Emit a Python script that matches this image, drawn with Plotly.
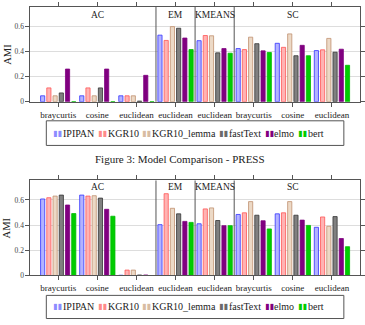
import plotly.graph_objects as go

W, H = 365, 325

categories = ["braycurtis", "cosine", "euclidean", "euclidean", "euclidean",
              "braycurtis", "cosine", "euclidean"]
methods = ["AC", "EM", "KMEANS", "SC"]
method_first = [0, 3, 4, 5]
method_last = [2, 3, 4, 7]
models = ["IPIPAN", "KGR10", "KGR10_lemma", "fastText", "elmo", "bert"]
y_ticks = [0, 0.2, 0.4, 0.6]
y_tick_labels = ["0", "0.2", "0.4", "0.6"]

# Figure 3 - PRESS
press_ipipan = [0.047, 0.047, 0.047, 0.530, 0.486, 0.423, 0.465, 0.407]
press_kgr10 = [0.110, 0.110, 0.047, 0.488, 0.527, 0.415, 0.433, 0.413]
press_kgr10_lemma = [0.047, 0.047, 0.047, 0.598, 0.525, 0.514, 0.540, 0.504]
press_fasttext = [0.070, 0.110, 0.005, 0.585, 0.389, 0.462, 0.366, 0.394]
press_elmo = [0.260, 0.260, 0.210, 0.507, 0.423, 0.405, 0.449, 0.418]
press_bert = [0.0, 0.0, 0.0, 0.415, 0.386, 0.392, 0.366, 0.290]

# second chart
second_ipipan = [0.608, 0.639, 0.002, 0.404, 0.411, 0.485, 0.490, 0.383]
second_kgr10 = [0.618, 0.631, 0.043, 0.650, 0.529, 0.498, 0.498, 0.465]
second_kgr10_lemma = [0.631, 0.634, 0.043, 0.534, 0.537, 0.587, 0.587, 0.391]
second_fasttext = [0.639, 0.615, 0.004, 0.490, 0.437, 0.479, 0.479, 0.468]
second_elmo = [0.560, 0.526, 0.004, 0.430, 0.396, 0.435, 0.440, 0.294]
second_bert = [0.492, 0.471, 0.0, 0.422, 0.396, 0.370, 0.398, 0.229]

caption = "Figure 3: Model Comparison - PRESS"

fills = ["#b3b3ff", "#ffb3b3", "#ecd9c6", "#808080", "#800080", "#00cc00"]
edges = ["#3333ff", "#ff5555", "#c09070", "#333333", "#800080", "#00bb00"]
icon_colors = ["#8c8cff", "#ff8a8a", "#d8bca2", "#6a6a6a", "#800080", "#00cc00"]
# legend layout in pixels (icon start, text start)
legend_icon_x = [52.3, 98.0, 142.6, 219.4, 265.7, 299.2]
legend_text_x = [62.3, 108.0, 152.6, 229.4, 275.7, 309.2]

FONT = "Liberation Serif"
TXT = "#222222"


def px(x):
    return x / W


def py(y):
    return 1 - y / H


press = [press_ipipan, press_kgr10, press_kgr10_lemma, press_fasttext, press_elmo, press_bert]
second = [second_ipipan, second_kgr10, second_kgr10_lemma, second_fasttext, second_elmo, second_bert]

xpos = list(range(len(categories)))
fig = go.Figure()
for data, xa, ya in [(press, "x", "y"), (second, "x2", "y2")]:
    for i, name in enumerate(models):
        fig.add_trace(go.Bar(
            x=xpos, y=data[i], name=name, xaxis=xa, yaxis=ya,
            marker=dict(color=fills[i], line=dict(color=edges[i], width=0.8)),
            showlegend=False,
        ))

xdom = [px(30.7), px(362.7)]
panels = [
    dict(top=7.0, bottom=103.3, label_y=15, legend_top=122.7, legend_bottom=147.7),
    dict(top=183.3, bottom=279.8, label_y=190, legend_top=300.0, legend_bottom=323.5),
]

axis_common_x = dict(
    range=[-0.71, 7.71], tickvals=xpos, ticktext=categories,
    ticks="outside", ticklen=4, tickcolor="#555", mirror="ticks",
    showline=True, linecolor="#555", linewidth=1, showgrid=False, zeroline=False,
    tickfont=dict(family=FONT, size=9, color=TXT),
)
axis_common_y = dict(
    range=[0, 0.755], tickvals=y_ticks, ticktext=y_tick_labels,
    ticks="outside", ticklen=4, tickcolor="#555", mirror="ticks",
    showline=True, linecolor="#555", linewidth=1,
    showgrid=True, gridcolor="#dddddd", gridwidth=0.8, zeroline=False,
    tickfont=dict(family=FONT, size=7.5, color="#444"),
)

layout_axes = {}
annotations = []
shapes = []
for k, p in enumerate(panels):
    suffix = "" if k == 0 else "2"
    ydom = [py(p["bottom"]), py(p["top"])]
    layout_axes["xaxis" + suffix] = dict(axis_common_x, domain=xdom, anchor="y" + suffix)
    layout_axes["yaxis" + suffix] = dict(axis_common_y, domain=ydom, anchor="x" + suffix)
    xref = "x" + suffix
    # method separators
    for b in method_first[1:]:
        shapes.append(dict(type="line", xref=xref, yref="y" + suffix + " domain",
                           x0=b - 0.5, x1=b - 0.5, y0=0, y1=1,
                           line=dict(color="#555", width=1)))
    # method labels
    for m, a, b in zip(methods, method_first, method_last):
        annotations.append(dict(x=(a + b) / 2, y=py(p["label_y"]), xref=xref, yref="paper",
                                text=m, showarrow=False, xanchor="center", yanchor="middle",
                                font=dict(family=FONT, size=9.5, color=TXT)))
    # y axis title
    annotations.append(dict(x=px(7.5), y=py((p["top"] + p["bottom"]) / 2), xref="paper", yref="paper",
                            text="AMI", textangle=-90, showarrow=False,
                            xanchor="center", yanchor="middle",
                            font=dict(family=FONT, size=10.5, color=TXT)))
    # legend box
    shapes.append(dict(type="rect", xref="paper", yref="paper",
                       x0=px(46.7), x1=px(346.7), y0=py(p["legend_bottom"]), y1=py(p["legend_top"]),
                       line=dict(color="#555", width=1), fillcolor="rgba(0,0,0,0)"))
    ly = py((p["legend_top"] + p["legend_bottom"]) / 2)
    for name, c, ix, tx in zip(models, icon_colors, legend_icon_x, legend_text_x):
        annotations.append(dict(x=px(ix), y=ly, xref="paper", yref="paper", text="▮▮",
                                showarrow=False, xanchor="left", yanchor="middle",
                                borderpad=0,
                                font=dict(family="DejaVu Sans", size=8, color=c)))
        annotations.append(dict(x=px(tx), y=ly, xref="paper", yref="paper", text=name,
                                showarrow=False, xanchor="left", yanchor="middle",
                                borderpad=0,
                                font=dict(family=FONT, size=10, color=TXT)))

annotations.append(dict(x=px(181), y=py(161), xref="paper", yref="paper", text=caption,
                        showarrow=False, xanchor="center", yanchor="middle",
                        font=dict(family=FONT, size=11, color=TXT)))

fig.update_layout(
    width=W, height=H, margin=dict(l=0, r=0, t=0, b=0),
    paper_bgcolor="white", plot_bgcolor="white",
    barmode="group", bargap=0.045, bargroupgap=0.33,
    annotations=annotations, shapes=shapes, showlegend=False,
    **layout_axes,
)

fig.write_html("out.html")
